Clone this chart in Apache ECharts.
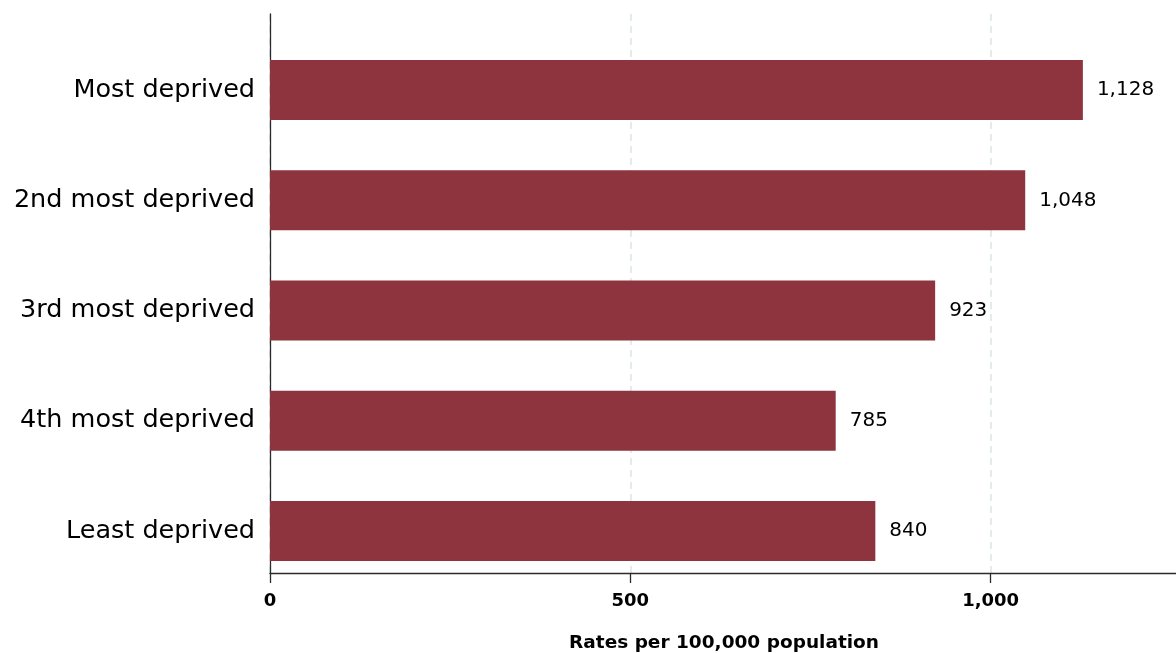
<!DOCTYPE html>
<html>
<head>
<meta charset="utf-8">
<script src="https://cdn.jsdelivr.net/npm/echarts@6/dist/echarts.min.js"></script>
<style>
html,body{margin:0;padding:0;background:#fff;}
#chart{width:1176px;height:653px;}
</style>
</head>
<body>
<div id="chart"></div>
<script>
const categories = ['Most deprived', '2nd most deprived', '3rd most deprived', '4th most deprived', 'Least deprived'];
const rates = [1128, 1048, 923, 785, 840];
const xTicks = [0, 500, 1000];
const xTitle = 'Rates per 100,000 population';

const fmt = v => Number(v).toLocaleString('en-US');
const FONT = 'DejaVu Sans';
const X_MAX = 1260;

const chart = echarts.init(document.getElementById('chart'), null, {renderer: 'canvas'});
chart.setOption({
  animation: false,
  backgroundColor: '#ffffff',
  grid: [
    {left: 270, right: -2, top: 35, bottom: 67, containLabel: false, outerBoundsMode: 'none'},
    {left: 270, right: -2, top: 14, bottom: 80, containLabel: false, outerBoundsMode: 'none'}
  ],
  xAxis: [
    {gridIndex: 0, type: 'value', min: 0, max: X_MAX, interval: 500, show: false},
    {
      gridIndex: 1, type: 'value', min: 0, max: X_MAX, interval: 500,
      name: xTitle, nameLocation: 'middle', nameGap: 61,
      nameTextStyle: {fontFamily: FONT, fontSize: 18.5, fontWeight: 'bold', color: '#000'},
      axisLine: {show: true, lineStyle: {color: '#2a2a2a', width: 1.3}},
      axisTick: {show: true, length: 10, lineStyle: {color: '#2a2a2a', width: 1.3}},
      axisLabel: {
        margin: 19, fontFamily: FONT, fontSize: 18, fontWeight: 'bold', color: '#000',
        showMaxLabel: false,
        formatter: v => (xTicks.indexOf(v) >= 0 ? fmt(v) : '')
      },
      splitLine: {show: true, lineStyle: {color: '#dce5e8', type: [7, 5], width: 1.5}}
    }
  ],
  yAxis: [
    {
      gridIndex: 0, type: 'category', data: categories, inverse: true,
      axisLine: {show: false}, axisTick: {show: false},
      axisLabel: {margin: 15, fontFamily: FONT, fontSize: 25.5, color: '#000'}
    },
    {
      gridIndex: 1, type: 'value', min: 0, max: 1,
      axisLine: {show: true, lineStyle: {color: '#2a2a2a', width: 1.3}},
      axisTick: {show: false}, axisLabel: {show: false}, splitLine: {show: false}
    }
  ],
  series: [
    {
      type: 'bar', xAxisIndex: 0, yAxisIndex: 0,
      data: rates, barWidth: 60,
      itemStyle: {color: '#8e343e'},
      label: {
        show: true, position: 'right', distance: 14,
        fontFamily: FONT, fontSize: 20, color: '#000',
        formatter: p => fmt(p.value)
      }
    }
  ]
});
</script>
</body>
</html>
